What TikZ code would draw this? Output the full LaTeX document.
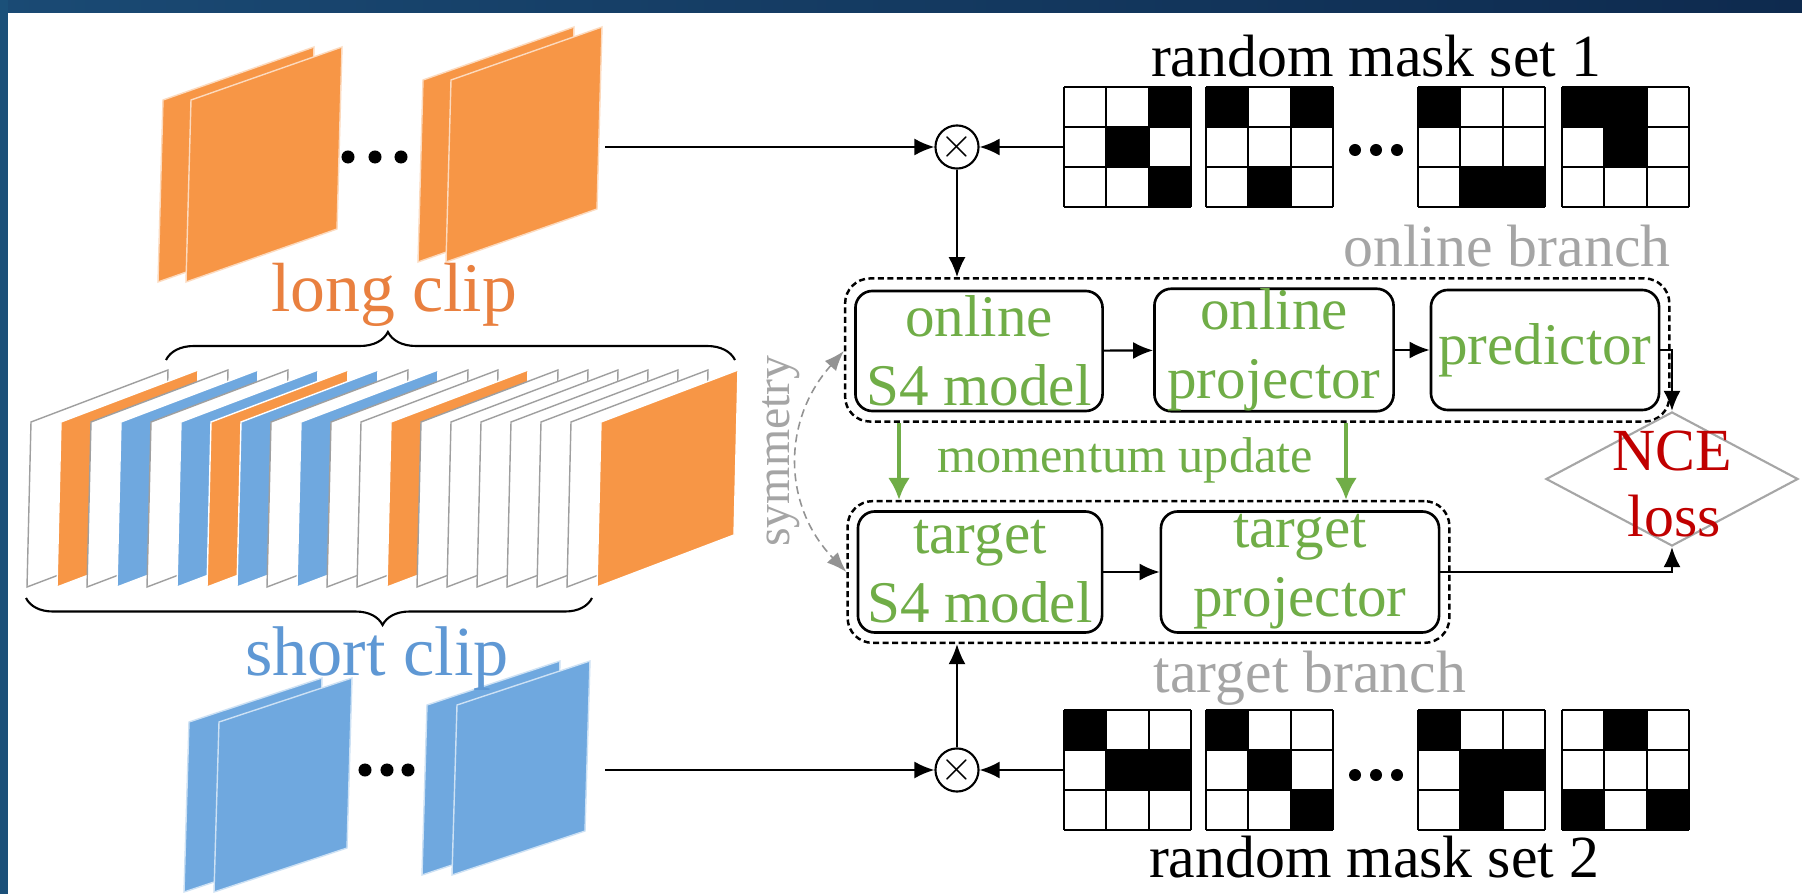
\documentclass[tikz,border=0pt]{standalone}
\usepackage{fontspec}
\setmainfont{Liberation Serif}
\usepackage{tikz}
\usetikzlibrary{calc}
\usetikzlibrary{arrows.meta}
\usetikzlibrary{decorations.pathreplacing}
\usetikzlibrary{shapes.geometric}
\usetikzlibrary{fit}

\definecolor{clipOrange}{HTML}{F79646}
\definecolor{clipBlue}{HTML}{6FA8DF}
\definecolor{longText}{HTML}{E9803F}
\definecolor{shortText}{HTML}{5F98D4}
\definecolor{netGreen}{HTML}{70AD47}
\definecolor{branchGray}{HTML}{A5A5A5}
\definecolor{lossRed}{HTML}{C00000}
\definecolor{barLeft}{HTML}{1A4A74}
\definecolor{barRight}{HTML}{0E2A4E}
\definecolor{barSide}{HTML}{1B5079}

\tikzset{
  netbox/.style={draw, rounded corners=0.17cm, line width=0.75pt, minimum height=1.2cm, align=center, text=netGreen, font=\fontsize{16.8}{19.6}\selectfont, inner sep=0},
  branchbox/.style={draw, dash pattern=on 0.06cm off 0.035cm, rounded corners=0.25cm, line width=0.7pt, inner sep=0.09cm},
  flow/.style={-{Latex[length=0.2cm,width=0.17cm]}, line width=0.6pt},
  momentum/.style={-{Latex[length=0.22cm,width=0.22cm]}, line width=1.2pt, netGreen},
  symarrow/.style={{Latex[length=0.2cm,width=0.15cm]}-{Latex[length=0.2cm,width=0.15cm]}, line width=0.45pt, gray!85, dash pattern=on 0.08cm off 0.05cm},
  mult/.style={circle, draw, line width=0.6pt, minimum size=0.42cm, inner sep=0, font=\fontsize{12}{12}\selectfont},
  maskbox/.style={minimum width=1.27cm, minimum height=1.2cm, inner sep=0},
  lossdiamond/.style={diamond, draw=gray!70, line width=0.6pt, minimum width=2.52cm, minimum height=1.34cm, inner sep=0},
  lbl/.style={inner sep=0, anchor=base, font=\fontsize{17}{17}\selectfont},
}

\newcommand{\pane}[7]{\path[#7] (#1,#2) -- ++(#3,-#4) -- ++(#5,#6) -- ++(-#3,#4) -- cycle;}
\newcommand{\maskgrid}[4]{%
  \node[maskbox] (#1) at (#2+63.5,#3+60) {};
  \foreach \c/\r in {#4} \fill (#2+42.33*\c,#3+40*\r) rectangle ++(42.33,40);
  \foreach \k in {0,1,2,3} {
    \draw[line width=0.6pt] (#2+42.33*\k,#3) -- ++(0,120);
    \draw[line width=0.6pt] (#2,#3+40*\k) -- ++(127,0);
  }
}

\begin{document}
\begin{tikzpicture}[x=0.01cm, y=-0.01cm]
\useasboundingbox (0,0) rectangle (1802,894);
\fill[white] (0,0) rectangle (1802,894);
\fill[left color=barLeft, right color=barRight] (0,0) rectangle (1802,13);
\fill[barSide] (0,0) rectangle (8,894);

\foreach \x/\y in {163/100, 191/100, 423/80, 451/80}
  \pane{\x}{\y}{151}{53}{-5}{182}{fill=clipOrange, draw=clipOrange!35!white, line width=0.4pt};
\foreach \x in {348,375,401} \fill (\x,157) circle (0.065cm);
\node[lbl, text=longText, font=\fontsize{19.8}{19.8}\selectfont] (lc) at (394,312) {long clip};

\draw[decorate, decoration={brace, amplitude=0.28cm, aspect=0.39}, line width=0.6pt] (166,360) -- (735,360);
\foreach \fc/\dc [count=\i from 0] in {white/gray!75, clipOrange/white, white/gray!75, clipBlue/white, white/gray!75, clipBlue/white, clipOrange/white, clipBlue/white, white/gray!75, clipBlue/white, white/gray!75, white/gray!75, clipOrange/white, white/gray!75, white/gray!75, white/gray!75, white/gray!75, white/gray!75, white/gray!75, clipOrange/white}
  \pane{31+30*\i}{422}{137}{52}{-4}{165}{fill=\fc, draw=\dc, line width=0.4pt};
\draw[decorate, decoration={brace, amplitude=0.27cm, aspect=0.37}, line width=0.6pt] (592,598) -- (26,598);

\foreach \x/\y in {189/722, 219/722, 427/705, 457/705}
  \pane{\x}{\y}{133}{44}{-5}{170}{fill=clipBlue, draw=clipBlue!35!white, line width=0.4pt};
\foreach \x in {365,387,408} \fill (\x,770) circle (0.065cm);
\node[lbl, text=shortText, font=\fontsize{20}{20}\selectfont] (sc) at (377,675) {short clip};

\coordinate (longout) at (605,147);
\coordinate (shortout) at (605,770);
\node[mult] (mul1) at (957,147) {$\times$};
\node[mult] (mul2) at (957,770) {$\times$};

\node[lbl] (rm1) at (1376,77) {random mask set 1};
\maskgrid{ma1}{1064}{87}{2/0,1/1,2/2}
\maskgrid{ma2}{1206}{87}{0/0,2/0,1/2}
\maskgrid{ma3}{1418}{87}{0/0,1/2,2/2}
\maskgrid{ma4}{1562}{87}{0/0,1/0,1/1}
\foreach \x in {1355,1376,1397} \fill (\x,150) circle (0.06cm);

\node[lbl] (rm2) at (1374,877) {random mask set 2};
\maskgrid{mb1}{1064}{710}{0/0,1/1,2/1}
\maskgrid{mb2}{1206}{710}{0/0,1/1,2/2}
\maskgrid{mb3}{1418}{710}{0/0,1/1,2/1,1/2}
\maskgrid{mb4}{1562}{710}{1/0,0/2,2/2}
\foreach \x in {1355,1376,1397} \fill (\x,775) circle (0.06cm);

\node[netbox, minimum width=2.47cm] (os4) at (979,351) {online\\S4 model};
\node[netbox, minimum width=2.39cm] (oproj) at (1274,350) {online\\projector};
\node[netbox, minimum width=2.28cm] (pred) at (1545,350) {predictor};
\node[netbox, minimum width=2.44cm, minimum height=1.21cm] (ts4) at (980,572) {target\\S4 model};
\node[netbox, minimum width=2.78cm, minimum height=1.21cm] (tproj) at (1300,572) {target\\projector};
\node[branchbox, fit=(os4)(oproj)(pred)] (online) {};
\node[branchbox, fit=(ts4)(tproj)] (target) {};
\node[lbl, text=branchGray] (obr) at (1507,267) {online branch};
\node[lbl, text=branchGray] (tbr) at (1310,692) {target branch};

\node[lossdiamond] (nce) at (1672,479) {};
\node[lbl, text=lossRed] (ncetop) at (1672,470) {NCE};
\node[lbl, text=lossRed] (ncebot) at (1674,536) {loss};

\coordinate (mL) at (899,0);
\coordinate (mR) at (1346,0);
\node[lbl, text=netGreen, font=\fontsize{14.3}{14.3}\selectfont] (mom) at (1125,472) {momentum update};
\node[inner sep=0, rotate=90, text=branchGray, font=\fontsize{13.6}{13.6}\selectfont] (sym) at (781,451) {symmetry};

\draw[flow] (longout) -- (mul1);
\draw[flow] (ma1.west) -- (mul1);
\draw[flow] (mul1) -- (mul1 |- online.north);
\draw[flow] (shortout) -- (mul2);
\draw[flow] (mb1.west) -- (mul2);
\draw[flow] (mul2) -- (mul2 |- target.south);
\draw[flow] (os4) -- (oproj);
\draw[flow] (oproj) -- (pred);
\draw[flow] (ts4) -- (tproj);
\draw[flow] (pred.east) -| (nce.north);
\draw[flow] (tproj.east) -| (nce.south);
\draw[momentum] (online.south -| mL) -- (target.north -| mL);
\draw[momentum] (online.south -| mR) -- (target.north -| mR);
\draw[symarrow] (online.west |- os4.west) .. controls (782,420) and (782,505) .. (target.west |- ts4.west);
\end{tikzpicture}
\end{document}
